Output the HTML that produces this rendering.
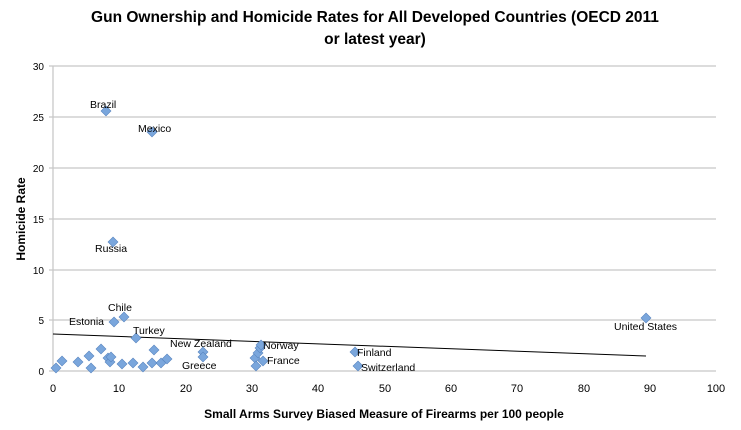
<!DOCTYPE html>
<html><head><meta charset="utf-8"><style>body{margin:0;background:#fff}svg{display:block}</style></head><body>
<svg width="741" height="430" xmlns="http://www.w3.org/2000/svg" font-family="Liberation Sans, sans-serif">
<rect width="741" height="430" fill="#fff"/>
<text x="375" y="22" font-size="15.5" font-weight="bold" text-anchor="middle">Gun Ownership and Homicide Rates for All Developed Countries (OECD 2011</text>
<text x="375" y="44" font-size="15.5" font-weight="bold" text-anchor="middle">or latest year)</text>
<g stroke="#c8c8c8" stroke-width="1.3">
<line x1="49" y1="66" x2="716" y2="66"/><line x1="49" y1="117" x2="716" y2="117"/><line x1="49" y1="168" x2="716" y2="168"/><line x1="49" y1="219" x2="716" y2="219"/><line x1="49" y1="270" x2="716" y2="270"/><line x1="49" y1="320" x2="716" y2="320"/><line x1="49" y1="371" x2="716" y2="371"/>
<line x1="53" y1="66" x2="53" y2="371"/>
</g>
<g font-size="10" text-anchor="end"><text x="44" y="70">30</text><text x="44" y="121">25</text><text x="44" y="172">20</text><text x="44" y="223">15</text><text x="44" y="274">10</text><text x="44" y="324">5</text><text x="44" y="375">0</text></g>
<g font-size="11" text-anchor="middle"><text x="53" y="392">0</text><text x="119" y="392">10</text><text x="186" y="392">20</text><text x="252" y="392">30</text><text x="318" y="392">40</text><text x="385" y="392">50</text><text x="451" y="392">60</text><text x="517" y="392">70</text><text x="584" y="392">80</text><text x="650" y="392">90</text><text x="716" y="392">100</text></g>
<text x="384" y="418" font-size="12" font-weight="bold" text-anchor="middle">Small Arms Survey Biased Measure of Firearms per 100 people</text>
<text transform="translate(25,219) rotate(-90)" font-size="12" font-weight="bold" text-anchor="middle">Homicide Rate</text>
<line x1="53" y1="334" x2="646" y2="356" stroke="#000" stroke-width="1"/>
<g fill="#6f9fd8" stroke="#4f7fb8" stroke-width="0.6">
<script>/*none*/</script>
</g>
<g fill="#7aa6dc" stroke="#5a86c0" stroke-width="0.6" id="pts"></g>
<g fill="#7aa6dc" stroke="#5a86c0" stroke-width="0.6">
<path d="M56 363l5 5-5 5-5-5z"/><path d="M62 356l5 5-5 5-5-5z"/><path d="M78 357l5 5-5 5-5-5z"/><path d="M89 351l5 5-5 5-5-5z"/><path d="M91 363l5 5-5 5-5-5z"/><path d="M101 344l5 5-5 5-5-5z"/><path d="M108 353l5 5-5 5-5-5z"/><path d="M110 357l5 5-5 5-5-5z"/><path d="M111 352l5 5-5 5-5-5z"/><path d="M114 317l5 5-5 5-5-5z"/><path d="M124 312l5 5-5 5-5-5z"/><path d="M122 359l5 5-5 5-5-5z"/><path d="M133 358l5 5-5 5-5-5z"/><path d="M136 333l5 5-5 5-5-5z"/><path d="M143 362l5 5-5 5-5-5z"/><path d="M152 358l5 5-5 5-5-5z"/><path d="M154 345l5 5-5 5-5-5z"/><path d="M161 358l5 5-5 5-5-5z"/><path d="M167 354l5 5-5 5-5-5z"/><path d="M203 347l5 5-5 5-5-5z"/><path d="M203 352l5 5-5 5-5-5z"/><path d="M255 353l5 5-5 5-5-5z"/><path d="M256 361l5 5-5 5-5-5z"/><path d="M258 348l5 5-5 5-5-5z"/><path d="M260 343l5 5-5 5-5-5z"/><path d="M261 340l5 5-5 5-5-5z"/><path d="M263 356l5 5-5 5-5-5z"/><path d="M355 347l5 5-5 5-5-5z"/><path d="M358 361l5 5-5 5-5-5z"/><path d="M106 106l5 5-5 5-5-5z"/><path d="M152 127l5 5-5 5-5-5z"/><path d="M113 237l5 5-5 5-5-5z"/><path d="M646 313l5 5-5 5-5-5z"/>
</g>
<g font-size="10.5">
<text x="90" y="108">Brazil</text><text x="138" y="132">Mexico</text><text x="95" y="252">Russia</text><text x="108" y="311">Chile</text><text x="69" y="325">Estonia</text><text x="133" y="334">Turkey</text><text x="170" y="347">New Zealand</text><text x="182" y="369">Greece</text><text x="263" y="349">Norway</text><text x="267" y="364">France</text><text x="357" y="356">Finland</text><text x="361" y="371">Switzerland</text><text x="614" y="330">United States</text>
</g>
</svg>
</body></html>
